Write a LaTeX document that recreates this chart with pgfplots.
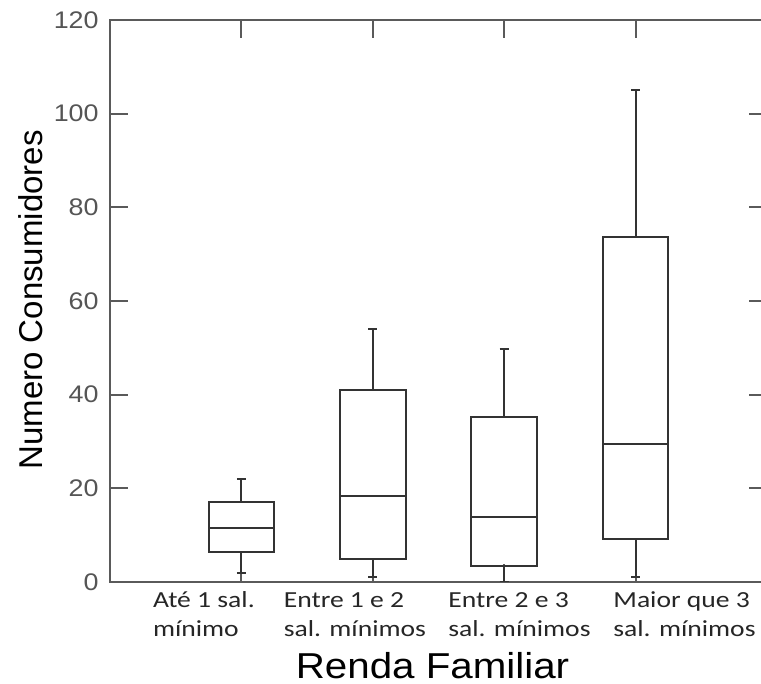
\documentclass[border=0pt]{standalone}
\usepackage{fontspec}
\setmainfont{Liberation Sans}
\newfontfamily\widesans[FakeStretch=1.12]{Liberation Sans}
\newfontfamily\calib[FakeStretch=1.2]{Carlito}
\usepackage{pgfplots}
\usepgfplotslibrary{statistics}
\pgfplotsset{compat=1.18}
\definecolor{axgray}{HTML}{5A5A5A}
\definecolor{boxgray}{HTML}{333333}
\definecolor{labgray}{HTML}{555555}

\begin{document}
\begin{tikzpicture}
% page = reference frame, right spine falls just outside as in the original
\useasboundingbox (-55pt,-51pt) rectangle (325.5pt,291pt);
\clip (-55pt,-51pt) rectangle (325.5pt,291pt);
\begin{axis}[
  scale only axis, width=328.5pt, height=281pt,
  xmin=0, xmax=5, ymin=0, ymax=120,
  xtick={1,2,3,4}, xticklabels={},
  ytick={0,20,...,120},
  tick align=inside, major tick length=9pt,
  axis line style={draw=axgray, line width=1.2pt},
  every tick/.style={draw=axgray, line width=1.1pt},
  yticklabel style={font=\fontsize{12}{14}\selectfont\widesans, text=labgray, inner sep=0pt, xshift=-5.5pt},
  /pgf/number format/assume math mode=true,
  boxplot/draw direction=y,
]
\addplot[boxgray, line width=1pt, boxplot prepared={lower whisker=2, lower quartile=6.5, median=11.5, upper quartile=17, upper whisker=22, draw position=1, box extend=0.5, whisker extend=0.07}] coordinates {};
\addplot[boxgray, line width=1pt, boxplot prepared={lower whisker=1.1, lower quartile=4.9, median=18.3, upper quartile=40.9, upper whisker=54, draw position=2, box extend=0.5, whisker extend=0.07}] coordinates {};
\addplot[boxgray, line width=1pt, boxplot prepared={lower whisker=0, lower quartile=3.5, median=13.8, upper quartile=35.3, upper whisker=49.8, draw position=3, box extend=0.5, whisker extend=0.07}] coordinates {};
\addplot[boxgray, line width=1pt, boxplot prepared={lower whisker=1, lower quartile=9.1, median=29.5, upper quartile=73.6, upper whisker=105, draw position=4, box extend=0.5, whisker extend=0.07}] coordinates {};
\end{axis}
% category labels, left aligned as in the original
\begin{scope}[every node/.style={anchor=base west, inner sep=0pt, font=\fontsize{11.5}{14}\selectfont\calib, text=black!85}]
  \node at (21.3pt,-13pt) {Até 1 sal.};
  \node at (21.3pt,-27.5pt) {mínimo};
  \node at (86.7pt,-13pt) {Entre 1 e 2};
  \node at (86.7pt,-27.5pt) {sal. mínimos};
  \node at (169pt,-13pt) {Entre 2 e 3};
  \node at (169pt,-27.5pt) {sal. mínimos};
  \node at (251.5pt,-13pt) {Maior que 3};
  \node at (251.5pt,-27.5pt) {sal. mínimos};
\end{scope}
\node[anchor=base, inner sep=0pt, font=\fontsize{18}{20}\selectfont\widesans] at (161.25pt,-48.5pt) {Renda Familiar};
\node[anchor=base, rotate=90, inner sep=0pt, font=\fontsize{16.5}{19}\selectfont] at (-33.5pt,141pt) {Numero Consumidores};
\end{tikzpicture}
\end{document}
